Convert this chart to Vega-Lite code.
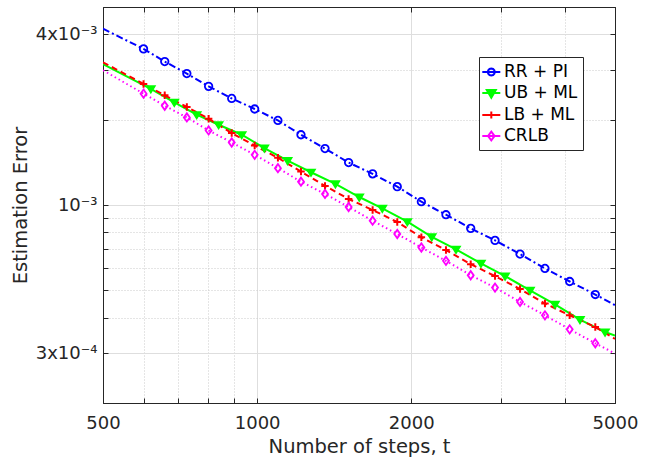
{
  "$schema": "https://vega.github.io/schema/vega-lite/v6.json",
  "width": 512,
  "height": 396,
  "autosize": "none",
  "padding": {"left": 103, "top": 7, "right": 32, "bottom": 55},
  "background": "white",
  "config": {
    "view": {"stroke": "#262626", "strokeWidth": 1},
    "font": "DejaVu Sans",
    "axis": {
      "labelFont": "DejaVu Sans",
      "titleFont": "DejaVu Sans",
      "labelColor": "#262626",
      "titleColor": "#262626",
      "labelFontSize": 18,
      "titleFontSize": 19.5,
      "titleFontWeight": "normal",
      "domainColor": "#262626",
      "tickColor": "#262626",
      "tickSize": -5,
      "labelOverlap": false,
      "labelBound": false,
      "labelFlush": false
    }
  },
  "data": {
    "values": [
      {"s": "RR + PI", "t": 500, "e": 0.00419, "m": 0},
      {"s": "RR + PI", "t": 600, "e": 0.003557, "m": 1},
      {"s": "RR + PI", "t": 660, "e": 0.003209, "m": 1},
      {"s": "RR + PI", "t": 729, "e": 0.00291, "m": 1},
      {"s": "RR + PI", "t": 804, "e": 0.002623, "m": 1},
      {"s": "RR + PI", "t": 892, "e": 0.002378, "m": 1},
      {"s": "RR + PI", "t": 989, "e": 0.002182, "m": 1},
      {"s": "RR + PI", "t": 1098, "e": 0.001988, "m": 1},
      {"s": "RR + PI", "t": 1218, "e": 0.00177, "m": 1},
      {"s": "RR + PI", "t": 1357, "e": 0.001582, "m": 1},
      {"s": "RR + PI", "t": 1509, "e": 0.001412, "m": 1},
      {"s": "RR + PI", "t": 1681, "e": 0.001288, "m": 1},
      {"s": "RR + PI", "t": 1878, "e": 0.001161, "m": 1},
      {"s": "RR + PI", "t": 2093, "e": 0.001027, "m": 1},
      {"s": "RR + PI", "t": 2338, "e": 0.000924, "m": 1},
      {"s": "RR + PI", "t": 2613, "e": 0.000827, "m": 1},
      {"s": "RR + PI", "t": 2915, "e": 0.00075, "m": 1},
      {"s": "RR + PI", "t": 3262, "e": 0.000671, "m": 1},
      {"s": "RR + PI", "t": 3649, "e": 0.000597, "m": 1},
      {"s": "RR + PI", "t": 4078, "e": 0.000537, "m": 1},
      {"s": "RR + PI", "t": 4576, "e": 0.000483, "m": 1},
      {"s": "RR + PI", "t": 5000, "e": 0.000443, "m": 0},
      {"s": "UB + ML", "t": 500, "e": 0.003145, "m": 0},
      {"s": "UB + ML", "t": 620, "e": 0.002569, "m": 1},
      {"s": "UB + ML", "t": 689, "e": 0.002303, "m": 1},
      {"s": "UB + ML", "t": 762, "e": 0.002083, "m": 1},
      {"s": "UB + ML", "t": 841, "e": 0.00192, "m": 1},
      {"s": "UB + ML", "t": 933, "e": 0.00177, "m": 1},
      {"s": "UB + ML", "t": 1033, "e": 0.001588, "m": 1},
      {"s": "UB + ML", "t": 1147, "e": 0.001435, "m": 1},
      {"s": "UB + ML", "t": 1274, "e": 0.001305, "m": 1},
      {"s": "UB + ML", "t": 1422, "e": 0.001187, "m": 1},
      {"s": "UB + ML", "t": 1583, "e": 0.001067, "m": 1},
      {"s": "UB + ML", "t": 1756, "e": 0.000973, "m": 1},
      {"s": "UB + ML", "t": 1965, "e": 0.000873, "m": 1},
      {"s": "UB + ML", "t": 2193, "e": 0.000772, "m": 1},
      {"s": "UB + ML", "t": 2446, "e": 0.000697, "m": 1},
      {"s": "UB + ML", "t": 2736, "e": 0.000622, "m": 1},
      {"s": "UB + ML", "t": 3050, "e": 0.000561, "m": 1},
      {"s": "UB + ML", "t": 3412, "e": 0.0005, "m": 1},
      {"s": "UB + ML", "t": 3817, "e": 0.000446, "m": 1},
      {"s": "UB + ML", "t": 4271, "e": 0.000394, "m": 1},
      {"s": "UB + ML", "t": 4781, "e": 0.000356, "m": 1},
      {"s": "UB + ML", "t": 5000, "e": 0.000346, "m": 0},
      {"s": "LB + ML", "t": 500, "e": 0.00319, "m": 0},
      {"s": "LB + ML", "t": 600, "e": 0.002675, "m": 1},
      {"s": "LB + ML", "t": 660, "e": 0.002438, "m": 1},
      {"s": "LB + ML", "t": 729, "e": 0.002218, "m": 1},
      {"s": "LB + ML", "t": 804, "e": 0.002016, "m": 1},
      {"s": "LB + ML", "t": 892, "e": 0.001794, "m": 1},
      {"s": "LB + ML", "t": 989, "e": 0.001622, "m": 1},
      {"s": "LB + ML", "t": 1098, "e": 0.001467, "m": 1},
      {"s": "LB + ML", "t": 1218, "e": 0.001312, "m": 1},
      {"s": "LB + ML", "t": 1357, "e": 0.001168, "m": 1},
      {"s": "LB + ML", "t": 1509, "e": 0.00105, "m": 1},
      {"s": "LB + ML", "t": 1681, "e": 0.00096, "m": 1},
      {"s": "LB + ML", "t": 1878, "e": 0.000871, "m": 1},
      {"s": "LB + ML", "t": 2093, "e": 0.000769, "m": 1},
      {"s": "LB + ML", "t": 2338, "e": 0.000693, "m": 1},
      {"s": "LB + ML", "t": 2613, "e": 0.000618, "m": 1},
      {"s": "LB + ML", "t": 2915, "e": 0.000561, "m": 1},
      {"s": "LB + ML", "t": 3262, "e": 0.000505, "m": 1},
      {"s": "LB + ML", "t": 3649, "e": 0.000449, "m": 1},
      {"s": "LB + ML", "t": 4078, "e": 0.000408, "m": 1},
      {"s": "LB + ML", "t": 4576, "e": 0.000371, "m": 1},
      {"s": "LB + ML", "t": 5000, "e": 0.000337, "m": 0},
      {"s": "CRLB", "t": 500, "e": 0.00299, "m": 0},
      {"s": "CRLB", "t": 600, "e": 0.002472, "m": 1},
      {"s": "CRLB", "t": 660, "e": 0.002241, "m": 1},
      {"s": "CRLB", "t": 729, "e": 0.002037, "m": 1},
      {"s": "CRLB", "t": 804, "e": 0.001833, "m": 1},
      {"s": "CRLB", "t": 892, "e": 0.001662, "m": 1},
      {"s": "CRLB", "t": 989, "e": 0.001504, "m": 1},
      {"s": "CRLB", "t": 1098, "e": 0.001349, "m": 1},
      {"s": "CRLB", "t": 1218, "e": 0.001209, "m": 1},
      {"s": "CRLB", "t": 1357, "e": 0.001094, "m": 1},
      {"s": "CRLB", "t": 1509, "e": 0.000984, "m": 1},
      {"s": "CRLB", "t": 1681, "e": 0.00088, "m": 1},
      {"s": "CRLB", "t": 1878, "e": 0.00079, "m": 1},
      {"s": "CRLB", "t": 2093, "e": 0.000708, "m": 1},
      {"s": "CRLB", "t": 2338, "e": 0.000635, "m": 1},
      {"s": "CRLB", "t": 2613, "e": 0.000565, "m": 1},
      {"s": "CRLB", "t": 2915, "e": 0.000511, "m": 1},
      {"s": "CRLB", "t": 3262, "e": 0.000455, "m": 1},
      {"s": "CRLB", "t": 3649, "e": 0.000408, "m": 1},
      {"s": "CRLB", "t": 4078, "e": 0.000364, "m": 1},
      {"s": "CRLB", "t": 4576, "e": 0.000325, "m": 1},
      {"s": "CRLB", "t": 5000, "e": 0.000299, "m": 0}
    ]
  },
  "layer": [
    {
      "transform": [{"filter": "datum.s === 'RR + PI'"}],
      "mark": {"type": "line", "strokeWidth": 2, "color": "#0000ff", "strokeDash": [7, 3, 2, 3], "clip": true},
      "encoding": {
        "x": {
          "field": "t", "type": "quantitative",
          "scale": {"type": "log", "domain": [500, 5000], "nice": false},
          "axis": {
            "title": "Number of steps, t",
            "values": [500, 600, 700, 800, 900, 1000, 2000, 3000, 4000, 5000],
            "labelExpr": "(datum.value==500||datum.value==1000||datum.value==2000||datum.value==5000) ? format(datum.value,'d') : ''",
            "labelPadding": 16,
            "titlePadding": 5,
            "gridColor": {"condition": {"test": "datum.value==1000||datum.value==2000", "value": "#dedede"}, "value": "#cacaca"},
            "gridDash": {"condition": {"test": "datum.value==1000||datum.value==2000", "value": []}, "value": [1, 2]}
          }
        },
        "y": {
          "field": "e", "type": "quantitative",
          "scale": {"type": "log", "domain": [0.0002, 0.005], "nice": false},
          "axis": {
            "title": "Estimation Error",
            "values": [0.0002, 0.0003, 0.0004, 0.0005, 0.0006, 0.0007, 0.0008, 0.0009, 0.001, 0.002, 0.003, 0.004, 0.005],
            "labelExpr": "abs(datum.value-0.004)<1e-9 ? '4x10⁻³' : abs(datum.value-0.001)<1e-9 ? '10⁻³' : abs(datum.value-0.0003)<1e-9 ? '3x10⁻⁴' : ''",
            "labelPadding": 11,
            "titlePadding": 5,
            "gridColor": {"condition": {"test": "abs(datum.value-0.004)<1e-9||abs(datum.value-0.001)<1e-9||abs(datum.value-0.0003)<1e-9", "value": "#dedede"}, "value": "#cacaca"},
            "gridDash": {"condition": {"test": "abs(datum.value-0.004)<1e-9||abs(datum.value-0.001)<1e-9||abs(datum.value-0.0003)<1e-9", "value": []}, "value": [1, 2]}
          }
        }
      }
    },
    {
      "transform": [{"filter": "datum.s === 'UB + ML'"}],
      "mark": {"type": "line", "strokeWidth": 2, "color": "#00ff00", "clip": true},
      "encoding": {
        "x": {"field": "t", "type": "quantitative", "axis": null},
        "y": {"field": "e", "type": "quantitative", "axis": null}
      }
    },
    {
      "transform": [{"filter": "datum.s === 'LB + ML'"}],
      "mark": {"type": "line", "strokeWidth": 2, "color": "#ff0000", "strokeDash": [6, 4], "clip": true},
      "encoding": {
        "x": {"field": "t", "type": "quantitative", "axis": null},
        "y": {"field": "e", "type": "quantitative", "axis": null}
      }
    },
    {
      "transform": [{"filter": "datum.s === 'CRLB'"}],
      "mark": {"type": "line", "strokeWidth": 2, "color": "#ff00ff", "strokeDash": [1.5, 3], "clip": true},
      "encoding": {
        "x": {"field": "t", "type": "quantitative", "axis": null},
        "y": {"field": "e", "type": "quantitative", "axis": null}
      }
    },
    {
      "transform": [{"filter": "datum.s === 'RR + PI' && datum.m == 1"}],
      "mark": {"type": "point", "filled": false, "stroke": "#0000ff", "fill": "transparent", "strokeWidth": 1.8, "size": 56, "opacity": 1, "shape": "circle"},
      "encoding": {
        "x": {"field": "t", "type": "quantitative", "axis": null},
        "y": {"field": "e", "type": "quantitative", "axis": null}
      }
    },
    {
      "transform": [{"filter": "datum.s === 'UB + ML' && datum.m == 1"}],
      "mark": {"type": "point", "filled": true, "fill": "#00ff00", "stroke": "#00ff00", "strokeWidth": 1.5, "size": 56, "opacity": 1, "shape": "M-1.1,-0.75H1.1L0,1.05Z"},
      "encoding": {
        "x": {"field": "t", "type": "quantitative", "axis": null},
        "y": {"field": "e", "type": "quantitative", "axis": null}
      }
    },
    {
      "transform": [{"filter": "datum.s === 'LB + ML' && datum.m == 1"}],
      "mark": {"type": "point", "filled": false, "stroke": "#ff0000", "fill": "transparent", "strokeWidth": 2, "size": 56, "opacity": 1, "shape": "M-1,0H1M0,-1V1"},
      "encoding": {
        "x": {"field": "t", "type": "quantitative", "axis": null},
        "y": {"field": "e", "type": "quantitative", "axis": null}
      }
    },
    {
      "transform": [{"filter": "datum.s === 'CRLB' && datum.m == 1"}],
      "mark": {"type": "point", "filled": false, "stroke": "#ff00ff", "fill": "transparent", "strokeWidth": 1.8, "size": 56, "opacity": 1, "shape": "M0,-1.1L0.8,0L0,1.1L-0.8,0Z"},
      "encoding": {
        "x": {"field": "t", "type": "quantitative", "axis": null},
        "y": {"field": "e", "type": "quantitative", "axis": null}
      }
    },
    {
      "transform": [{"filter": "datum.m > 5"}],
      "mark": {"type": "point", "filled": true, "strokeWidth": 2, "opacity": 1},
      "encoding": {
        "x": {"field": "t", "type": "quantitative", "axis": null},
        "y": {"field": "e", "type": "quantitative", "axis": null},
        "stroke": {
          "field": "s", "type": "nominal",
          "scale": {"domain": ["RR + PI", "UB + ML", "LB + ML", "CRLB"], "range": ["#0000ff", "#00ff00", "#ff0000", "#ff00ff"]},
          "legend": {
            "title": null,
            "orient": "none",
            "legendX": 376,
            "legendY": 50,
            "strokeColor": "#262626",
            "fillColor": "white",
            "padding": 5,
            "cornerRadius": 0,
            "labelFont": "DejaVu Sans",
            "labelFontSize": 17,
            "labelColor": "#000000",
            "labelOffset": 0,
            "rowPadding": 3,
            "symbolSize": 324,
            "symbolStrokeWidth": 2,
            "symbolOpacity": 1
          }
        },
        "fill": {
          "field": "s", "type": "nominal",
          "scale": {"domain": ["RR + PI", "UB + ML", "LB + ML", "CRLB"], "range": ["transparent", "#00ff00", "transparent", "transparent"]},
          "legend": {"title": null}
        },
        "shape": {
          "field": "s", "type": "nominal",
          "scale": {"domain": ["RR + PI", "UB + ML", "LB + ML", "CRLB"], "range": [
            "M-1.3,0H0.09M-0.69,0H0.7M0.09,0L0.038,0.195L-0.105,0.338L-0.3,0.39L-0.495,0.338L-0.638,0.195L-0.69,0L-0.638,-0.195L-0.495,-0.338L-0.3,-0.39L-0.105,-0.338L0.038,-0.195Z",
            "M-1.3,0H0.7M-0.8,-0.34H0.2L-0.3,0.52Z",
            "M-1.3,0H0.7M-0.3,-0.39V0.39",
            "M-1.3,0H0.7M-0.3,-0.48L0.06,0L-0.3,0.48L-0.66,0Z"
          ]},
          "legend": {"title": null}
        }
      }
    },
    {
      "mark": {"type": "point", "opacity": 0},
      "encoding": {
        "x": {
          "field": "t", "type": "quantitative",
          "axis": {"orient": "top", "title": null, "labels": false, "grid": false,
                   "values": [500, 600, 700, 800, 900, 1000, 2000, 3000, 4000, 5000]}
        },
        "y": {
          "field": "e", "type": "quantitative",
          "axis": {"orient": "right", "title": null, "labels": false, "grid": false,
                   "values": [0.0002, 0.0003, 0.0004, 0.0005, 0.0006, 0.0007, 0.0008, 0.0009, 0.001, 0.002, 0.003, 0.004, 0.005]}
        }
      }
    }
  ],
  "resolve": {"axis": {"x": "independent", "y": "independent"}}
}
